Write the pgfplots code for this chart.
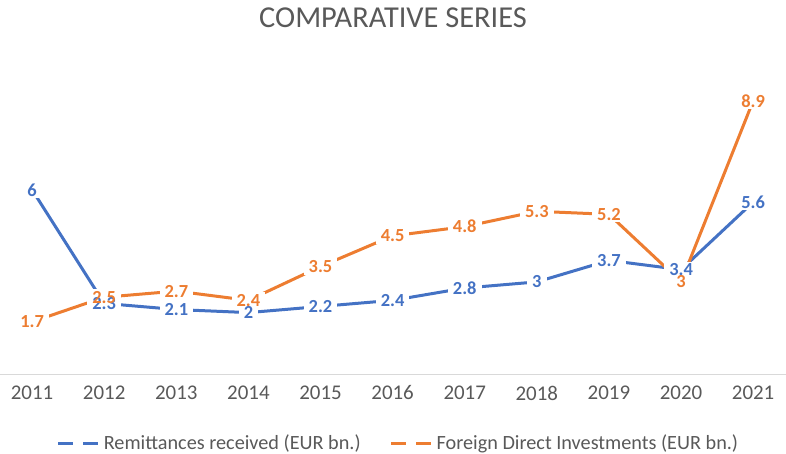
\documentclass[border=0pt]{standalone}
\usepackage{pgfplots}
\pgfplotsset{compat=1.18}
\usepackage{fontspec}
\setmainfont{Carlito}
\definecolor{cblue}{HTML}{4472C4}
\definecolor{corange}{HTML}{ED7D31}
\definecolor{ctitle}{HTML}{595959}
\definecolor{caxis}{HTML}{D9D9D9}
\begin{document}
\begin{tikzpicture}
\path[use as bounding box] (0,-80bp) rectangle (786bp,374bp);
\begin{axis}[
  at={(0,0)}, anchor=south west,
  scale only axis, width=786bp, height=291.65bp,
  xmin=2010.555, xmax=2021.455, ymin=0, ymax=9.5,
  axis x line*=bottom, axis y line=none,
  x axis line style={caxis, line width=1bp, -},
  xtick={2011,...,2021},
  tick style={draw=none},
  /pgf/number format/1000 sep={},
  /pgf/number format/assume math mode=true,
  xticklabel style={font=\fontsize{21}{24}\selectfont, text=ctitle, anchor=center, yshift=-19bp},
  title={COMPARATIVE SERIES},
  title style={font=\fontsize{30.5}{34}\selectfont, text=ctitle, anchor=center, at={(axis description cs:0.5,1)}, yshift=59bp},
  legend columns=2,
  legend style={at={(axis description cs:0.5,0)}, anchor=center, yshift=-69bp, xshift=5bp, draw=none, fill=none,
    font=\fontsize{20.3}{23}\selectfont, text=ctitle,
    nodes={inner xsep=1bp, inner ysep=1bp},
    /tikz/every even column/.append style={column sep=28bp}},
  legend image code/.code={\draw[#1, dash pattern=on 15bp off 10bp, line cap=butt] (0bp,0bp) -- (43bp,0bp);},
  clip=false,
]
\addplot[cblue, line width=3bp, mark=none] coordinates {
(2011,6) (2012,2.3) (2013,2.1) (2014,2) (2015,2.2) (2016,2.4) (2017,2.8) (2018,3) (2019,3.7) (2020,3.4) (2021,5.6)};
\addlegendentry{Remittances received (EUR bn.)}
\addplot[corange, line width=3bp, mark=none] coordinates {
(2011,1.7) (2012,2.5) (2013,2.7) (2014,2.4) (2015,3.5) (2016,4.5) (2017,4.8) (2018,5.3) (2019,5.2) (2020,3) (2021,8.9)};
\addlegendentry{Foreign Direct Investments (EUR bn.)}
% white boxes (gaps in lines)
\pgfplotsset{boxstyle/.style={draw=none, forget plot, mark=none,
  nodes near coords={\phantom{\pgfmathprintnumber{\pgfplotspointmeta}}},
  every node near coord/.append style={anchor=center, fill=white, inner xsep=5bp, inner ysep=2bp, font=\fontsize{18.5}{20}\selectfont\bfseries}}}
\addplot[boxstyle] coordinates {
(2011,6) (2012,2.3) (2013,2.1) (2014,2) (2015,2.2) (2016,2.4) (2017,2.8) (2018,3) (2019,3.7) (2020,3.4) (2021,5.6)};
\addplot[boxstyle] coordinates {
(2011,1.7) (2012,2.5) (2013,2.7) (2014,2.4) (2015,3.5) (2016,4.5) (2017,4.8) (2018,5.3) (2019,5.2) (2020,3) (2021,8.9)};
% labels
\pgfplotsset{labstyle/.style={draw=none, forget plot, mark=none,
  nodes near coords,
  every node near coord/.append style={anchor=center, inner sep=0pt, text=#1, font=\fontsize{18.5}{20}\selectfont\bfseries}}}
\addplot[labstyle=cblue] coordinates {
(2011,6) (2012,2.3) (2013,2.1) (2014,2) (2015,2.2) (2016,2.4) (2017,2.8) (2018,3) (2019,3.7) (2020,3.4) (2021,5.6)};
\addplot[labstyle=corange] coordinates {
(2011,1.7) (2012,2.5) (2013,2.7) (2014,2.4) (2015,3.5) (2016,4.5) (2017,4.8) (2018,5.3) (2019,5.2) (2020,3) (2021,8.9)};
\end{axis}
\end{tikzpicture}
\end{document}
